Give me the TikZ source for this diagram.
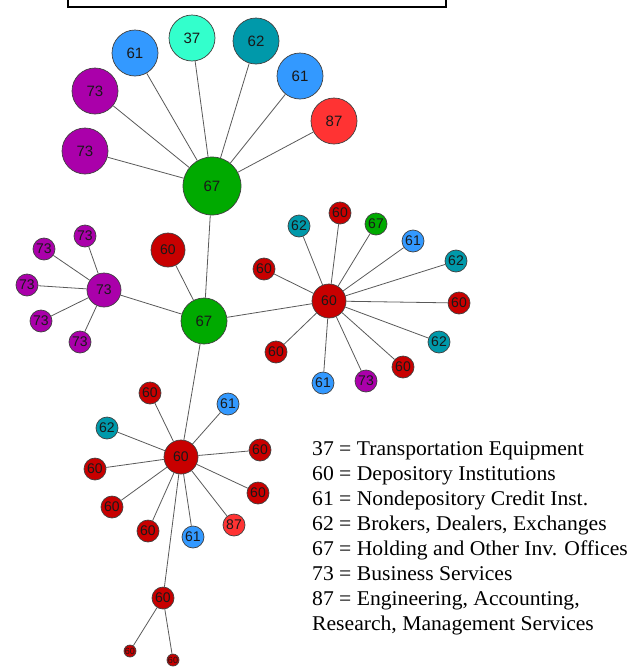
\documentclass[tikz,border=0pt]{standalone}
\usepackage{fontspec}
\setmainfont{Liberation Serif}
\newfontfamily\nodefont{Liberation Sans}
\newfontfamily\legendfont[FakeStretch=1.03]{Liberation Serif}
\definecolor{colA}{HTML}{00AA00}
\definecolor{colB}{HTML}{AA00AA}
\definecolor{colC}{HTML}{3399FF}
\definecolor{colD}{HTML}{33FFCC}
\definecolor{colE}{HTML}{0099AA}
\definecolor{colF}{HTML}{FF3333}
\definecolor{colG}{HTML}{C80000}
\begin{document}
\begin{tikzpicture}[x=1pt,y=-1pt,
  nd/.style={circle,draw=black!75,line width=0.7pt,inner sep=0pt,text=black!90,
    font=\nodefont\fontsize{14}{14}\selectfont},
  bignd/.style={nd,minimum size=58pt,font=\nodefont\fontsize{15}{15}\selectfont},
  mednd/.style={nd,minimum size=46pt,font=\nodefont\fontsize{15}{15}\selectfont},
  hubnd/.style={nd,minimum size=34pt},
  smnd/.style={nd,minimum size=22pt},
  tinynd/.style={nd,minimum size=12pt,font=\nodefont\fontsize{9}{9}\selectfont},
  k37/.style={fill=colD}, k60/.style={fill=colG}, k61/.style={fill=colC},
  k62/.style={fill=colE}, k67/.style={fill=colA}, k73/.style={fill=colB},
  k87/.style={fill=colF},
  edge/.style={draw=black!65,line width=0.8pt},
  leg/.style={anchor=base west,inner sep=0pt,font=\legendfont\fontsize{21}{25}\selectfont}]
\useasboundingbox (0,0) rectangle (639,667);
% top box
\draw[line width=2pt] (68,-5) rectangle (446,7);
% top cluster
\node[bignd,k67] (t67) at (212,186) {67};
\node[mednd,k73] (t73a) at (85,151) {73};
\node[mednd,k73] (t73b) at (95,91) {73};
\node[mednd,k61] (t61a) at (135,53) {61};
\node[mednd,k37] (t37) at (192,38) {37};
\node[mednd,k62] (t62) at (256,41) {62};
\node[mednd,k61] (t61b) at (300,76) {61};
\node[mednd,k87] (t87) at (334,121) {87};
% middle
\node[mednd,k67] (m67) at (204,321) {67};
\node[hubnd,k60] (m60) at (168,250) {60};
\node[hubnd,k73] (h73) at (104,290) {73};
\node[smnd,k73] (s73a) at (85,236) {73};
\node[smnd,k73] (s73b) at (44,249) {73};
\node[smnd,k73] (s73c) at (27,285) {73};
\node[smnd,k73] (s73d) at (41,321) {73};
\node[smnd,k73] (s73e) at (80,342) {73};
% right hub
\node[hubnd,k60] (r60) at (329,301) {60};
\node[smnd,k62] (r1) at (299,226) {62};
\node[smnd,k60] (r2) at (340,213) {60};
\node[smnd,k67] (r3) at (376,224) {67};
\node[smnd,k61] (r4) at (413,241) {61};
\node[smnd,k62] (r5) at (456,261) {62};
\node[smnd,k60] (r6) at (459,303) {60};
\node[smnd,k62] (r7) at (439,342) {62};
\node[smnd,k60] (r8) at (403,367) {60};
\node[smnd,k73] (r9) at (366,381) {73};
\node[smnd,k61] (r10) at (323,383) {61};
\node[smnd,k60] (r11) at (276,352) {60};
\node[smnd,k60] (r12) at (264,269) {60};
% bottom hub
\node[hubnd,k60] (b60) at (181,457) {60};
\node[smnd,k60] (b1) at (150,393) {60};
\node[smnd,k61] (b2) at (228,404) {61};
\node[smnd,k62] (b3) at (107,428) {62};
\node[smnd,k60] (b4) at (260,450) {60};
\node[smnd,k60] (b5) at (95,469) {60};
\node[smnd,k60] (b6) at (258,493) {60};
\node[smnd,k60] (b7) at (112,507) {60};
\node[smnd,k87] (b8) at (234,525) {87};
\node[smnd,k60] (b9) at (148,531) {60};
\node[smnd,k61] (b10) at (193,537) {61};
% tail
\node[smnd,k60] (x60) at (163,598) {60};
\node[tinynd,k60] (y1) at (130,651) {60};
\node[tinynd,k60] (y2) at (173,660) {60};
% edges
\foreach \a in {t73a,t73b,t61a,t37,t62,t61b,t87,m67} \draw[edge] (t67) -- (\a);
\foreach \a in {m60,h73,r60,b60} \draw[edge] (m67) -- (\a);
\foreach \a in {s73a,s73b,s73c,s73d,s73e} \draw[edge] (h73) -- (\a);
\foreach \a in {r1,r2,r3,r4,r5,r6,r7,r8,r9,r10,r11,r12} \draw[edge] (r60) -- (\a);
\foreach \a in {b1,b2,b3,b4,b5,b6,b7,b8,b9,b10,x60} \draw[edge] (b60) -- (\a);
\draw[edge] (x60) -- (y1);
\draw[edge] (x60) -- (y2);
% legend
\node[leg] (l1) at (312,455) {37 = Transportation Equipment};
\node[leg] (l2) at (312,480) {60 = Depository Institutions};
\node[leg] (l3) at (312,505) {61 = Nondepository Credit Inst.};
\node[leg] (l4) at (312,530) {62 = Brokers, Dealers, Exchanges};
\node[leg] (l5) at (312,555) {67 = Holding and Other Inv. Offices};
\node[leg] (l6) at (312,580) {73 = Business Services};
\node[leg] (l7) at (312,605) {87 = Engineering, Accounting,};
\node[leg] (l8) at (312,630) {Research, Management Services};
\end{tikzpicture}
\end{document}
